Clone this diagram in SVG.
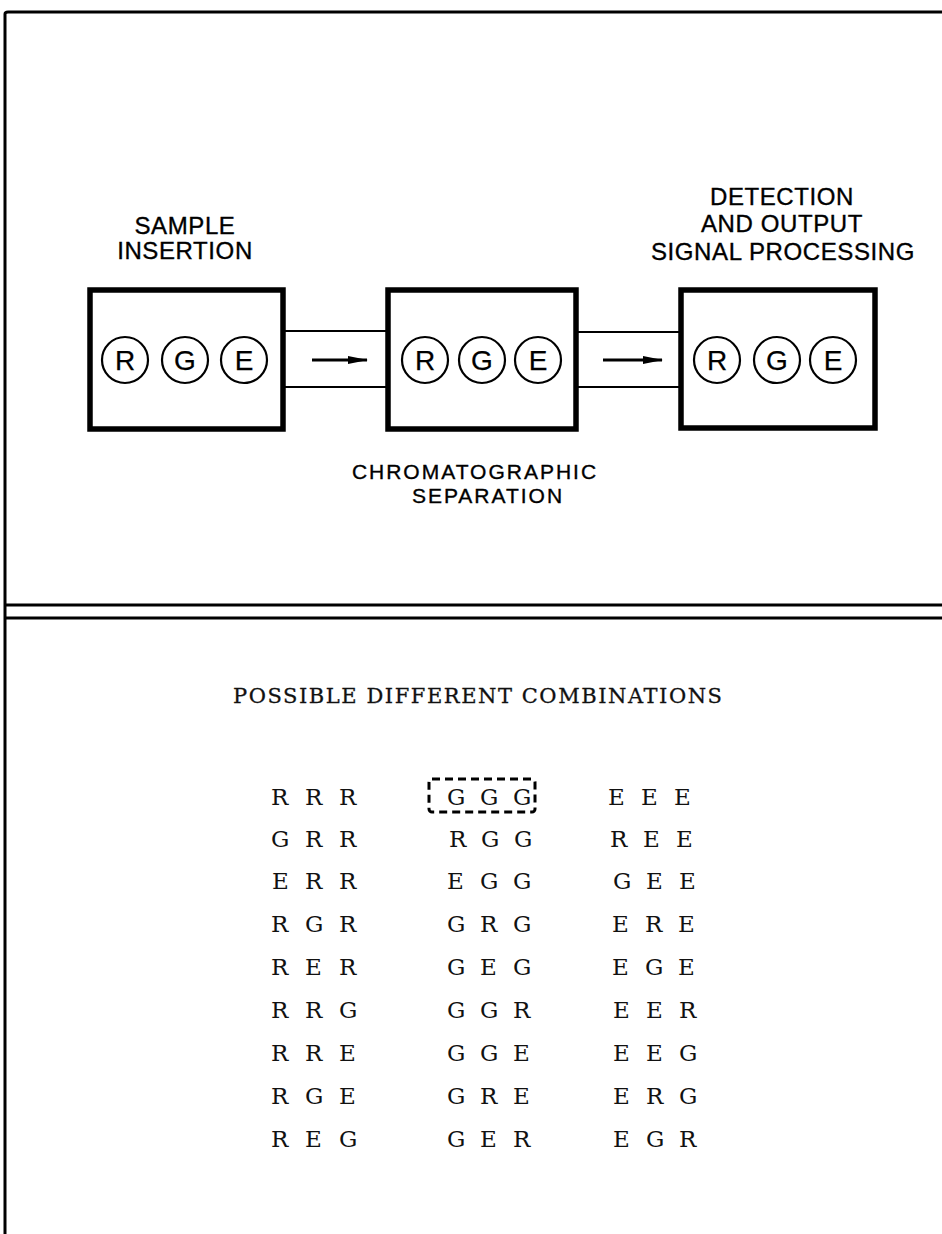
<svg xmlns="http://www.w3.org/2000/svg" width="942" height="1234" viewBox="0 0 942 1234">
<style>
.frame{stroke:#000;stroke-width:3;fill:none}
.box{fill:#fff;stroke:#000;stroke-width:5.5}
.circ{fill:none;stroke:#000;stroke-width:2.2}
.cl{font-family:"Liberation Sans",Arial,sans-serif;font-size:28px;text-anchor:middle;fill:#000;stroke:#000;stroke-width:0.25}
.lbl{font-family:"Liberation Sans",Arial,sans-serif;font-size:24px;text-anchor:middle;letter-spacing:0.6px;fill:#000;stroke:#000;stroke-width:0.35}
.lbl2{font-family:"Liberation Sans",Arial,sans-serif;font-size:21px;text-anchor:middle;letter-spacing:2px;fill:#000;stroke:#000;stroke-width:0.35}
.tube{stroke:#000;stroke-width:2;fill:none}
.arr{stroke:#000;stroke-width:3;fill:none}
.ser{font-family:"DejaVu Serif","Liberation Serif",serif;fill:#111}
.title{font-size:21px;stroke:#111;stroke-width:0.3}
.grid{font-size:23px}
.dash{fill:none;stroke:#000;stroke-width:3;stroke-dasharray:8 5}
</style>
<defs>
<marker id="ah" markerWidth="20" markerHeight="8" refX="19" refY="4" orient="auto" markerUnits="userSpaceOnUse">
<path d="M0,0 L20,4 L0,8 Z" fill="#000"/>
</marker>
</defs>
<rect x="0" y="0" width="942" height="1234" fill="#fff"/>
<g id="frame">
<path class="frame" d="M5,1234 L5,14 Q5,12 8,12 L942,12"/>
<line class="frame" x1="5" y1="605" x2="942" y2="605"/>
<line class="frame" x1="5" y1="618" x2="942" y2="618"/>
</g>
<g id="connectors">
<line class="tube" x1="285" y1="331" x2="386" y2="331"/>
<line class="tube" x1="285" y1="387" x2="386" y2="387"/>
<line class="tube" x1="577" y1="332" x2="679" y2="332"/>
<line class="tube" x1="577" y1="387" x2="679" y2="387"/>
<line class="arr" x1="312" y1="360" x2="367" y2="360" marker-end="url(#ah)"/>
<line class="arr" x1="603" y1="360" x2="662" y2="360" marker-end="url(#ah)"/>
</g>
<g id="sample-insertion">
<rect class="box" x="90" y="290" width="193" height="139"/>
<circle class="circ" cx="125" cy="360" r="23"/>
<circle class="circ" cx="185" cy="360" r="23"/>
<circle class="circ" cx="244" cy="360" r="23"/>
<text class="cl" x="125" y="370">R</text>
<text class="cl" x="185" y="370">G</text>
<text class="cl" x="244" y="370">E</text>
<text class="lbl" x="185" y="234">SAMPLE</text>
<text class="lbl" x="185" y="259">INSERTION</text>
</g>
<g id="chromatographic-separation">
<rect class="box" x="388" y="290" width="188" height="139"/>
<circle class="circ" cx="425" cy="360" r="23"/>
<circle class="circ" cx="482" cy="360" r="23"/>
<circle class="circ" cx="538" cy="360" r="23"/>
<text class="cl" x="425" y="370">R</text>
<text class="cl" x="482" y="370">G</text>
<text class="cl" x="538" y="370">E</text>
<text class="lbl2" x="475" y="479">CHROMATOGRAPHIC</text>
<text class="lbl2" x="488" y="503">SEPARATION</text>
</g>
<g id="detection">
<rect class="box" x="681" y="290" width="194" height="138"/>
<circle class="circ" cx="717" cy="360" r="23"/>
<circle class="circ" cx="777" cy="360" r="23"/>
<circle class="circ" cx="833" cy="360" r="23"/>
<text class="cl" x="717" y="370">R</text>
<text class="cl" x="777" y="370">G</text>
<text class="cl" x="833" y="370">E</text>
<text class="lbl" x="782" y="205">DETECTION</text>
<text class="lbl" x="782" y="232">AND OUTPUT</text>
<text class="lbl" x="783" y="260">SIGNAL PROCESSING</text>
</g>
<g id="combinations">
<text class="ser title" x="233" y="703" textLength="489" lengthAdjust="spacing">POSSIBLE DIFFERENT COMBINATIONS</text>
<rect class="dash" x="429" y="779" width="106" height="33" rx="3"/>
<g class="ser grid">
<text x="271 305 339" y="805">RRR</text><text x="447 480 513" y="805">GGG</text><text x="608 641 674" y="805">EEE</text>
<text x="271 305 339" y="847">GRR</text><text x="449 481 514" y="847">RGG</text><text x="610 643 676" y="847">REE</text>
<text x="272 305 339" y="889">ERR</text><text x="447 480 513" y="889">EGG</text><text x="613 646 679" y="889">GEE</text>
<text x="271 305 339" y="932">RGR</text><text x="447 480 513" y="932">GRG</text><text x="612 645 678" y="932">ERE</text>
<text x="271 305 339" y="975">RER</text><text x="447 480 513" y="975">GEG</text><text x="612 645 678" y="975">EGE</text>
<text x="271 305 339" y="1018">RRG</text><text x="447 480 513" y="1018">GGR</text><text x="613 646 679" y="1018">EER</text>
<text x="271 305 339" y="1061">RRE</text><text x="447 480 513" y="1061">GGE</text><text x="613 646 679" y="1061">EEG</text>
<text x="271 305 339" y="1104">RGE</text><text x="447 480 513" y="1104">GRE</text><text x="613 646 679" y="1104">ERG</text>
<text x="271 305 339" y="1147">REG</text><text x="447 480 513" y="1147">GER</text><text x="613 646 679" y="1147">EGR</text>
</g>
</g>
</svg>
